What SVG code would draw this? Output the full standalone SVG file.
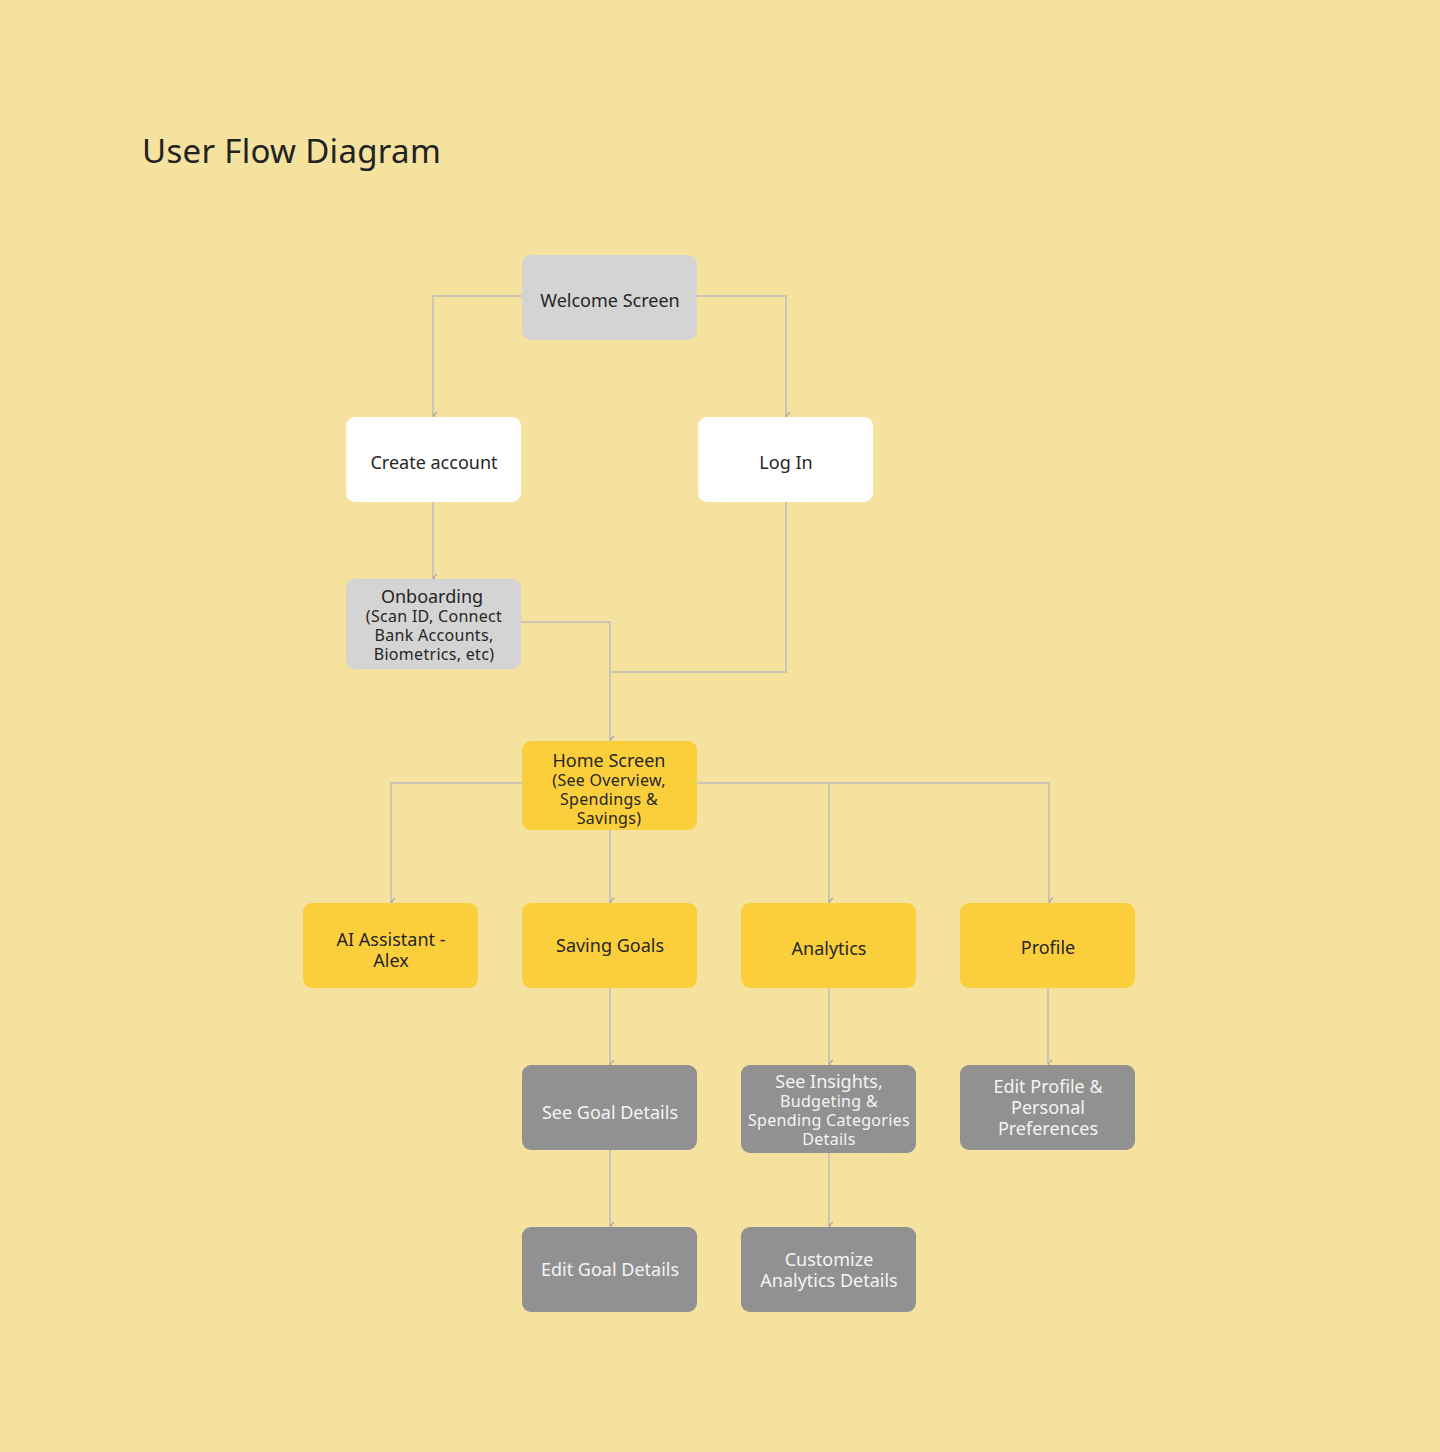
<svg xmlns="http://www.w3.org/2000/svg" width="1440" height="1452" viewBox="0 0 1440 1452">
<defs>
<marker id="arr" markerWidth="12" markerHeight="12" refX="6" refY="10" orient="auto" markerUnits="userSpaceOnUse" viewBox="0 0 12 12">
<path d="M2,6 L6,10 L10,6" fill="none" stroke="#a8a8a8" stroke-width="1.3"/>
</marker>
<style>
.n{stroke:none}
.lg{fill:#d4d4d4}
.wh{fill:#ffffff}
.ye{fill:#fbcf3b}
.dg{fill:#919191}
.t{font-family:"Noto Sans","Liberation Sans",sans-serif;font-size:18px;fill:#262626;text-anchor:middle}
.s{font-size:16px;letter-spacing:0.3px}
.tw{fill:#f4f4f4}
.c{fill:none;stroke:#bcbcbc;stroke-width:1.5}
</style>
</defs>
<rect width="1440" height="1452" fill="#f5e29e"/>
<text x="142" y="163" font-family="Noto Sans, Liberation Sans, sans-serif" font-size="33" letter-spacing="0.3" fill="#222">User Flow Diagram</text>
<g id="connectors">
<path class="c" d="M522,296 H433 V416" marker-end="url(#arr)"/>
<path class="c" d="M697,296 H786 V416" marker-end="url(#arr)"/>
<path class="c" d="M433,502 V578" marker-end="url(#arr)"/>
<path class="c" d="M521,622 H610 V740" marker-end="url(#arr)"/>
<path class="c" d="M786,502 V672 H610"/>
<path class="c" d="M522,783 H391 V902" marker-end="url(#arr)"/>
<path class="c" d="M610,830 V902" marker-end="url(#arr)"/>
<path class="c" d="M697,783 H1049 V902" marker-end="url(#arr)"/>
<path class="c" d="M829,783 V902" marker-end="url(#arr)"/>
<path class="c" d="M610,988 V1064" marker-end="url(#arr)"/>
<path class="c" d="M829,988 V1064" marker-end="url(#arr)"/>
<path class="c" d="M1048,988 V1064" marker-end="url(#arr)"/>
<path class="c" d="M610,1150 V1226" marker-end="url(#arr)"/>
<path class="c" d="M829,1153 V1226" marker-end="url(#arr)"/>
</g>
<g id="welcome"><rect class="n lg" x="522" y="255" width="175" height="85" rx="9"/><text class="t" x="610" y="307">Welcome Screen</text></g>
<g id="create"><rect class="n wh" x="346" y="417" width="175" height="85" rx="9"/><text class="t" x="434" y="469">Create account</text></g>
<g id="login"><rect class="n wh" x="698" y="417" width="175" height="85" rx="9"/><text class="t" x="786" y="469">Log In</text></g>
<g id="onboarding"><rect class="n lg" x="346" y="579" width="175" height="90" rx="9"/>
<text class="t" x="432" y="603">Onboarding</text>
<text class="t s" x="434" y="622">(Scan ID, Connect</text>
<text class="t s" x="434" y="641">Bank Accounts,</text>
<text class="t s" x="434" y="660">Biometrics, etc)</text></g>
<g id="home"><rect class="n ye" x="522" y="741" width="175" height="89" rx="9"/>
<text class="t" x="609" y="767">Home Screen</text>
<text class="t s" x="609" y="786">(See Overview,</text>
<text class="t s" x="609" y="805">Spendings &amp;</text>
<text class="t s" x="609" y="824">Savings)</text></g>
<g id="ai"><rect class="n ye" x="303" y="903" width="175" height="85" rx="9"/>
<text class="t" x="391" y="946">AI Assistant -</text>
<text class="t" x="391" y="967">Alex</text></g>
<g id="saving"><rect class="n ye" x="522" y="903" width="175" height="85" rx="9"/><text class="t" x="610" y="952">Saving Goals</text></g>
<g id="analytics"><rect class="n ye" x="741" y="903" width="175" height="85" rx="9"/><text class="t" x="829" y="955">Analytics</text></g>
<g id="profile"><rect class="n ye" x="960" y="903" width="175" height="85" rx="9"/><text class="t" x="1048" y="954">Profile</text></g>
<g id="seegoal"><rect class="n dg" x="522" y="1065" width="175" height="85" rx="9"/><text class="t tw" x="610" y="1119">See Goal Details</text></g>
<g id="insights"><rect class="n dg" x="741" y="1065" width="175" height="88" rx="9"/>
<text class="t tw" x="829" y="1088">See Insights,</text>
<text class="t tw s" x="829" y="1107">Budgeting &amp;</text>
<text class="t tw s" x="829" y="1126">Spending Categories</text>
<text class="t tw s" x="829" y="1145">Details</text></g>
<g id="editprofile"><rect class="n dg" x="960" y="1065" width="175" height="85" rx="9"/>
<text class="t tw" x="1048" y="1093">Edit Profile &amp;</text>
<text class="t tw" x="1048" y="1114">Personal</text>
<text class="t tw" x="1048" y="1135">Preferences</text></g>
<g id="editgoal"><rect class="n dg" x="522" y="1227" width="175" height="85" rx="9"/><text class="t tw" x="610" y="1276">Edit Goal Details</text></g>
<g id="customize"><rect class="n dg" x="741" y="1227" width="175" height="85" rx="9"/>
<text class="t tw" x="829" y="1266">Customize</text>
<text class="t tw" x="829" y="1287">Analytics Details</text></g>
</svg>
